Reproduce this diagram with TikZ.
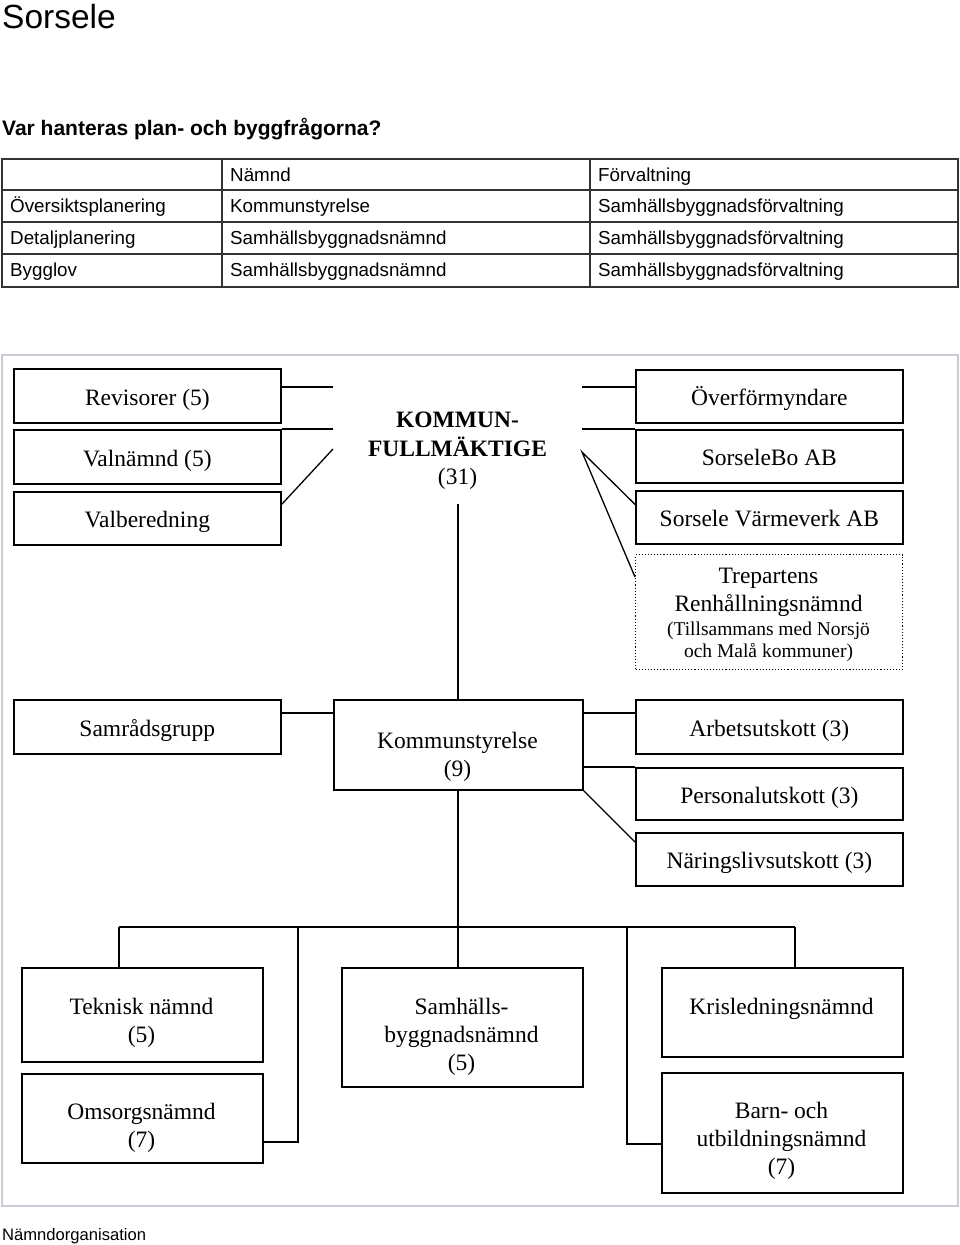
\documentclass[tikz,border=0pt]{standalone}
\usepackage{fontspec}
\setmainfont{Liberation Serif}
\newfontfamily\sansf{Liberation Sans}
\begin{document}
\begin{tikzpicture}[x=1pt,y=-1pt,
  box/.style={draw, line width=1.7pt, inner sep=0pt, anchor=north west, text height=21pt, text depth=2pt, font=\fontsize{23.5}{28}\selectfont},
  dotbox/.style={draw, line width=1.1pt, dotted, inner sep=0pt, anchor=north west},
  otxt/.style={inner sep=0pt, align=center, font=\fontsize{23.5}{28}\selectfont},
  stxt/.style={inner sep=0pt, align=center, font=\fontsize{19.5}{22}\selectfont},
  conn/.style={line width=1.3pt},
  tline/.style={line width=2.2pt, black!80},
  ttxt/.style={inner sep=0pt, anchor=base west, font=\sansf\fontsize{18.8}{22}\selectfont}
]
\useasboundingbox (0,0) rectangle (960,1245);

% titles
\node[inner sep=0pt, anchor=base west, font=\sansf\fontsize{33.5}{38}\selectfont] (title) at (2,28) {Sorsele};
\node[inner sep=0pt, anchor=base west, font=\sansf\bfseries\fontsize{21}{25}\selectfont] (sub) at (2,135) {Var hanteras plan- och byggfrågorna?};
\node[inner sep=0pt, anchor=base west, font=\sansf\fontsize{16.6}{20}\selectfont] (cap) at (2,1240) {Nämndorganisation};

% table
\draw[tline] (2,159) rectangle (958,287);
\draw[tline] (2,190) -- (958,190) (2,222) -- (958,222) (2,254) -- (958,254);
\draw[tline] (222,159) -- (222,287) (590,159) -- (590,287);
\node[ttxt] (h2) at (230,181.5) {Nämnd};
\node[ttxt] (h3) at (598,181.5) {Förvaltning};
\node[ttxt] (r1a) at (10,212) {Översiktsplanering};
\node[ttxt] (r1b) at (230,212) {Kommunstyrelse};
\node[ttxt] (r1c) at (598,212) {Samhällsbyggnadsförvaltning};
\node[ttxt] (r2a) at (10,244) {Detaljplanering};
\node[ttxt] (r2b) at (230,244) {Samhällsbyggnadsnämnd};
\node[ttxt] (r2c) at (598,244) {Samhällsbyggnadsförvaltning};
\node[ttxt] (r3a) at (10,276) {Bygglov};
\node[ttxt] (r3b) at (230,276) {Samhällsbyggnadsnämnd};
\node[ttxt] (r3c) at (598,276) {Samhällsbyggnadsförvaltning};

% frame
\draw[line width=1.3pt, color={rgb,255:red,200;green,204;blue,212}] (2,355) rectangle (958,1206);

% top group
\node[box, minimum width=267pt, minimum height=54pt] (rev) at (13,368) {Revisorer (5)};
\node[box, minimum width=267pt, minimum height=54pt] (val) at (13,429) {Valnämnd (5)};
\node[box, minimum width=267pt, minimum height=53pt] (vb) at (13,491) {Valberedning};
\node[otxt, font=\bfseries\fontsize{23.5}{28.5}\selectfont] (kf) at (457.5,451) {KOMMUN-\\FULLMÄKTIGE\\\mdseries(31)};
\node[box, minimum width=267pt, minimum height=53pt] (ov) at (635,369) {Överförmyndare};
\node[box, minimum width=267pt, minimum height=53pt] (sb) at (635,429) {SorseleBo AB};
\node[box, minimum width=267pt, minimum height=53pt] (sv) at (635,490) {Sorsele Värmeverk AB};
\node[dotbox, minimum width=267pt, minimum height=115pt] (tr) at (635,554) {};
\node[otxt] (trt) at (768.5,592) {Trepartens\\Renhållningsnämnd};
\node[stxt] (trs) at (768.5,642) {(Tillsammans med Norsjö\\och Malå kommuner)};

\coordinate (kfl1) at (333,387);
\coordinate (kfl2) at (333,429);
\coordinate (kfl3) at (333,449);
\coordinate (kfr1) at (582,387);
\coordinate (kfr2) at (582,429);
\coordinate (kfr3) at (582,452);
\coordinate (kfb) at (458,504);

\draw[conn] (kfl1 -| rev.east) -- (kfl1);
\draw[conn] (val.north east) -- (kfl2);
\draw[conn] ([yshift=14pt]vb.east) -- (kfl3);
\draw[conn] (kfr1) -- (kfr1 -| ov.west);
\draw[conn] (kfr2) -- (sb.north west);
\draw[conn] ([yshift=13pt]sv.west) -- (kfr3) -- ([yshift=-23pt]tr.north west);

% middle group
\node[box, minimum width=267pt, minimum height=54pt] (sam) at (13,699) {Samrådsgrupp};
\node[box, minimum width=249pt, minimum height=90pt] (ks) at (333,699) {};
\node[otxt] (kst) at (457.5,756.5) {Kommunstyrelse\\(9)};
\node[box, minimum width=267pt, minimum height=54pt] (ar) at (635,699) {Arbetsutskott (3)};
\node[box, minimum width=267pt, minimum height=52pt] (pe) at (635,767) {Personalutskott (3)};
\node[box, minimum width=267pt, minimum height=53pt] (na) at (635,832) {Näringslivsutskott (3)};

\draw[conn] (kfb) -- (ks.north -| kfb);
\draw[conn] ([yshift=-14pt]sam.north east) -- ([yshift=-14pt]ks.north west);
\draw[conn] ([yshift=-14pt]ks.north east) -- ([yshift=-14pt]ar.north west);
\draw[conn] ([yshift=-68pt]ks.north east) -- (pe.north west);
\draw[conn] (ks.south east) -- ([yshift=-10pt]na.north west);

% bottom group
\coordinate (bus) at (458,927);
\coordinate (busL) at (119,927);
\coordinate (busa) at (298,927);
\coordinate (busb) at (627,927);
\coordinate (busR) at (795,927);

\node[box, minimum width=241pt, minimum height=94pt] (tek) at (21,967) {};
\node[otxt] (tekt) at (141.5,1022.5) {Teknisk nämnd\\(5)};
\node[box, minimum width=241pt, minimum height=89pt] (om) at (21,1073) {};
\node[otxt] (omt) at (141.5,1127.5) {Omsorgsnämnd\\(7)};
\node[box, minimum width=241pt, minimum height=119pt] (sh) at (341,967) {};
\node[otxt] (sht) at (461.5,1036.5) {Samhälls-\\byggnadsnämnd\\(5)};
\node[box, minimum width=241pt, minimum height=89pt] (kr) at (661,967) {};
\node[otxt, anchor=base] (krt) at (781.5,1014) {Krisledningsnämnd};
\node[box, minimum width=241pt, minimum height=120pt] (ba) at (661,1072) {};
\node[otxt] (bat) at (781.5,1140.5) {Barn- och\\utbildningsnämnd\\(7)};

\draw[conn] (ks.south -| kfb) -- (bus);
\draw[conn] (busL) -- (busR);
\draw[conn] (busL) -- (busL |- tek.north);
\draw[conn] (busa) |- ([yshift=-23.5pt]om.east);
\draw[conn] (bus) -- (bus |- sh.north);
\draw[conn] (busb) |- ([yshift=-11pt]ba.west);
\draw[conn] (busR) -- (busR |- kr.north);
\end{tikzpicture}
\end{document}
